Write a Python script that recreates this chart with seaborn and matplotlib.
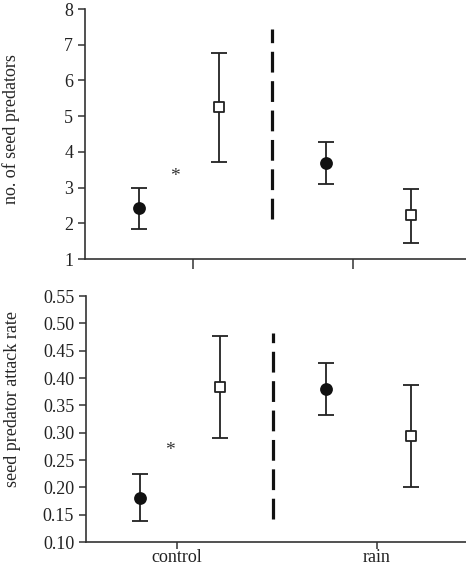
import matplotlib
matplotlib.use("Agg")
import matplotlib.pyplot as plt
import seaborn as sns
import pandas as pd

# ─── Data ────────────────────────────────────────────────────────
groups = ["control", "control", "rain", "rain"]
treatment = ["filled", "open", "filled", "open"]

predators_mean = [2.43, 5.27, 3.70, 2.22]
predators_lo = [1.83, 3.73, 3.10, 1.45]
predators_hi = [3.00, 6.78, 4.27, 2.97]

attack_mean = [0.181, 0.383, 0.379, 0.294]
attack_lo = [0.138, 0.291, 0.333, 0.201]
attack_hi = [0.224, 0.476, 0.428, 0.387]

star_predators = 3.3
star_attack = 0.268
divider_predators = (2.12, 7.45)
divider_attack = (0.142, 0.483)

# ─── Style ───────────────────────────────────────────────────────
sns.set_style("ticks")
plt.rcParams.update({
    "font.family": ["Liberation Serif", "DejaVu Serif"],
    "font.size": 13,
    "axes.edgecolor": "#333333",
    "axes.linewidth": 1.2,
    "xtick.color": "#333333",
    "ytick.color": "#333333",
    "xtick.labelcolor": "#222222",
    "ytick.labelcolor": "#222222",
})

# horizontal slots (fraction of axis width)
xpos = [0.142, 0.352, 0.632, 0.855]
divider_x = 0.491


def panel(ax, mean, lo, hi, star_x, star_y, divider, ylim, yticks, fmt, ticks_x):
    df = pd.DataFrame({"x": xpos, "y": mean, "lo": lo, "hi": hi, "kind": treatment})
    for _, r in df.iterrows():
        ax.errorbar(r["x"], r["y"], yerr=[[r["y"] - r["lo"]], [r["hi"] - r["y"]]],
                    fmt="none", ecolor="#222222", elinewidth=1.3, capsize=6,
                    capthick=1.3, zorder=2)
    sns.scatterplot(data=df[df["kind"] == "filled"], x="x", y="y", ax=ax,
                    marker="o", s=85, color="#111111", edgecolor="#111111",
                    linewidth=0, zorder=3, legend=False)
    sns.scatterplot(data=df[df["kind"] == "open"], x="x", y="y", ax=ax,
                    marker="s", s=62, facecolor="white", edgecolor="#222222",
                    linewidth=1.3, zorder=3, legend=False)
    ax.plot([divider_x, divider_x], list(divider), color="#111111",
            linewidth=2.3, dashes=(6.5, 2.7), zorder=1)
    ax.text(star_x, star_y, "*", ha="center", va="center", fontsize=14,
            color="#333333")
    ax.set_xlim(0, 1)
    ax.set_ylim(*ylim)
    ax.set_yticks(yticks)
    ax.set_yticklabels([fmt.format(v) for v in yticks])
    ax.set_xticks(ticks_x)
    ax.tick_params(axis="y", length=5, width=1.1)
    ax.tick_params(axis="x", length=7, width=1.1)
    ax.set_xlabel("")
    sns.despine(ax=ax)


fig = plt.figure(figsize=(4.66, 5.70), dpi=100)
ax1 = fig.add_axes([0.1824, 0.5456, 0.8176, 0.4386])
ax2 = fig.add_axes([0.1845, 0.0491, 0.8155, 0.4316])

panel(ax1, predators_mean, predators_lo, predators_hi, 0.236, star_predators,
      divider_predators, (1, 8), list(range(1, 9)), "{:d}", [0.283, 0.703])
ax1.set_xticklabels(["", ""])
ax1.set_ylabel("no. of seed predators")
ax1.yaxis.set_label_coords(-0.17, 0.52)

attack_ticks = [0.10, 0.15, 0.20, 0.25, 0.30, 0.35, 0.40, 0.45, 0.50, 0.55]
panel(ax2, attack_mean, attack_lo, attack_hi, 0.221, star_attack,
      divider_attack, (0.10, 0.55), attack_ticks, "{:.2f}", [0.24, 0.766])
ax2.set_xticklabels(["control", "rain"])
ax2.tick_params(axis="x", length=5, pad=0)
ax2.set_ylabel("seed predator attack rate")
ax2.yaxis.set_label_coords(-0.17, 0.58)

fig.savefig("out.png", dpi=100)
